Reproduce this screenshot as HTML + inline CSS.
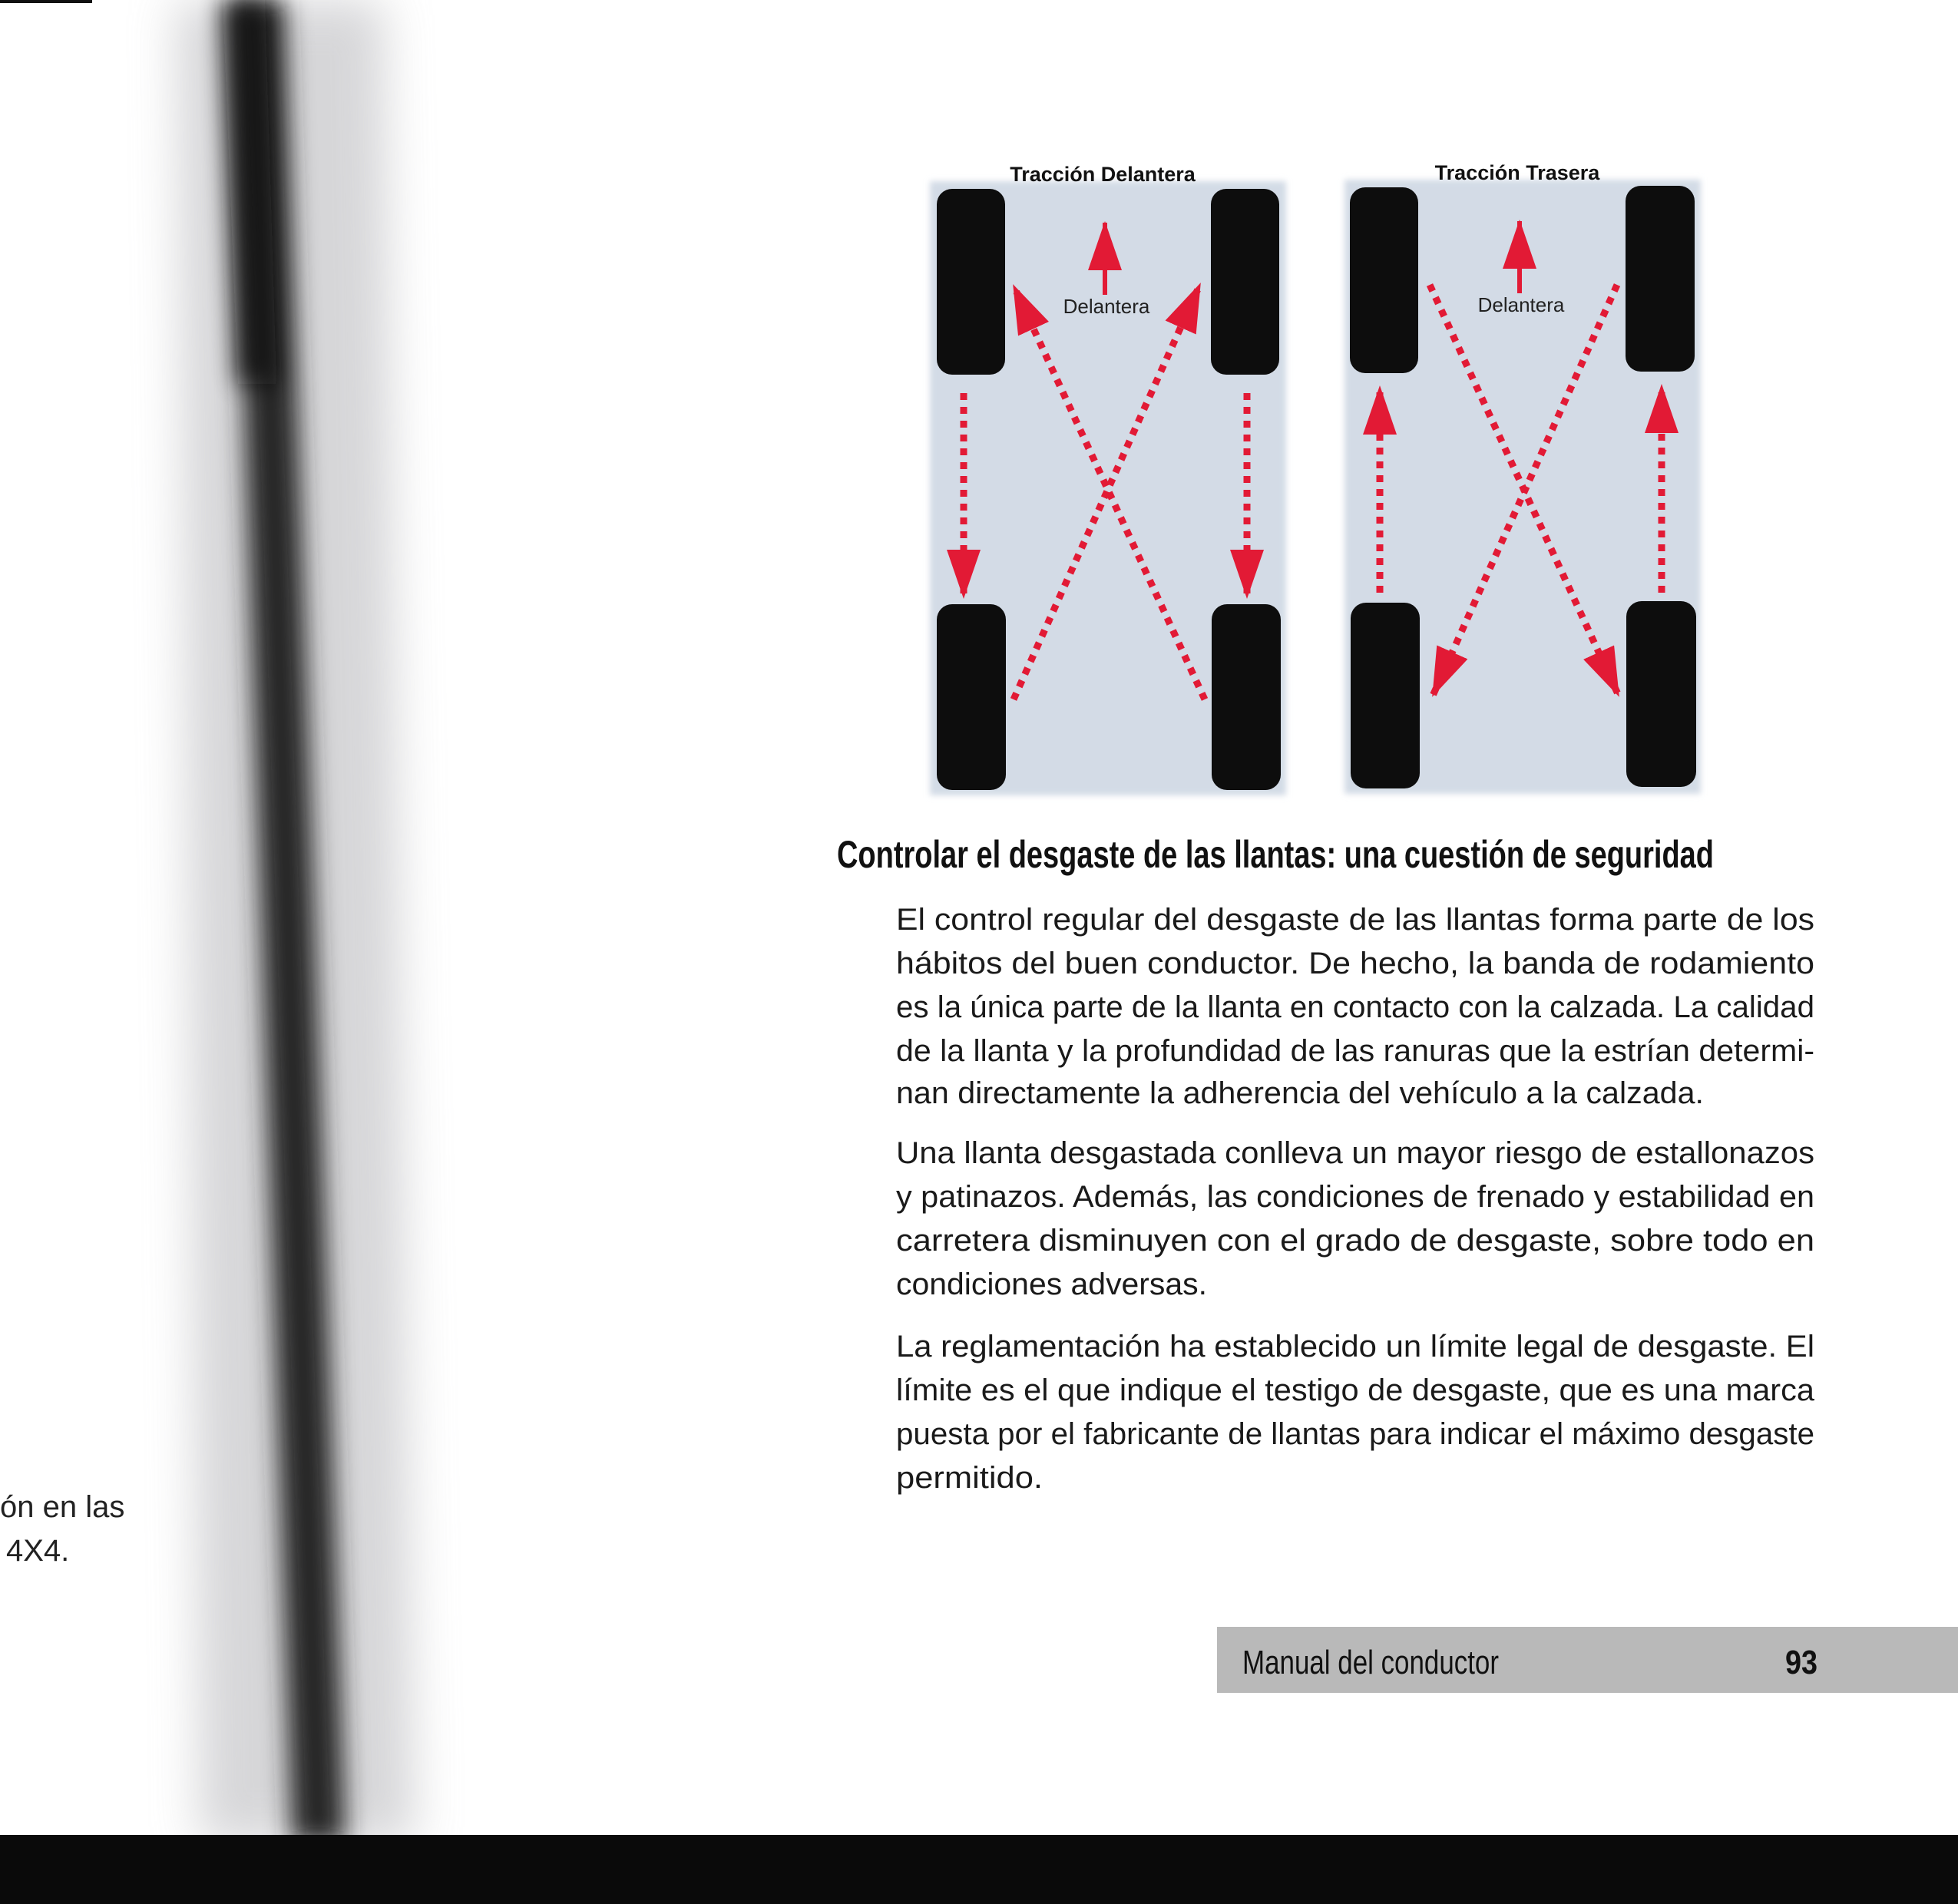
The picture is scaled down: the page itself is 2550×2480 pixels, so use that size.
<!DOCTYPE html>
<html><head><meta charset="utf-8"><style>
html,body{margin:0;padding:0;background:#fff;}
svg{display:block;}
</style></head><body>
<svg width="2550" height="2480" viewBox="0 0 2550 2480" xmlns="http://www.w3.org/2000/svg">
<defs>
<filter id="blur" x="-50%" y="-10%" width="200%" height="120%"><feGaussianBlur stdDeviation="30"/></filter>
<filter id="blur2" x="-50%" y="-10%" width="200%" height="120%"><feGaussianBlur stdDeviation="16"/></filter>
<filter id="soft" x="-5%" y="-5%" width="110%" height="110%"><feGaussianBlur stdDeviation="4"/></filter>
<marker id="ah" markerUnits="userSpaceOnUse" markerWidth="64" markerHeight="44" viewBox="0 0 64 44" refX="62" refY="22" orient="auto"><path d="M0,0 L64,22 L0,44 z" fill="#e21a35"/></marker>
</defs>

<g>
<polygon points="230,0 500,0 540,2400 260,2400" fill="#c9c9cc" filter="url(#blur)" opacity="0.75"/>
<polygon points="300,0 370,0 450,2400 380,2400" fill="#262626" filter="url(#blur2)"/>
<polygon points="290,0 345,0 360,500 310,500" fill="#111" filter="url(#blur2)" opacity="0.8"/>
</g>
<rect x="0" y="0" width="120" height="4" fill="#111"/>
<rect x="0" y="2390" width="2550" height="90" fill="#0a0a0a"/>

<g font-family="Liberation Sans, sans-serif" font-size="40" fill="#222">
<text x="0" y="1976">ón en las</text>
<text x="8" y="2033">4X4.</text>
</g>

<g>
<rect x="1211" y="236" width="464" height="800" fill="#d3dbe6" filter="url(#soft)"/>
<text x="1436" y="236" text-anchor="middle" font-family="Liberation Sans, sans-serif" font-weight="bold" font-size="27" fill="#111">Tracción Delantera</text>
<rect x="1220" y="246" width="89" height="242" rx="20" fill="#0d0d0d"/>
<rect x="1577" y="246" width="89" height="242" rx="20" fill="#0d0d0d"/>
<rect x="1220" y="787" width="90" height="242" rx="20" fill="#0d0d0d"/>
<rect x="1578" y="787" width="90" height="242" rx="20" fill="#0d0d0d"/>
<line x1="1439" y1="384" x2="1439" y2="290" stroke="#e21a35" stroke-width="6" marker-end="url(#ah)"/>
<text x="1441" y="408" text-anchor="middle" font-family="Liberation Sans, sans-serif" font-size="26" fill="#222">Delantera</text>
<g stroke="#e21a35" stroke-width="9" stroke-dasharray="9 9" fill="none">
<line x1="1255" y1="512" x2="1255" y2="778" marker-end="url(#ah)"/>
<line x1="1624" y1="512" x2="1624" y2="778" marker-end="url(#ah)"/>
<line x1="1320" y1="911" x2="1563" y2="370" marker-end="url(#ah)"/>
<line x1="1569" y1="911" x2="1320" y2="372" marker-end="url(#ah)"/>
</g>
</g>

<g>
<rect x="1751" y="234" width="464" height="800" fill="#d3dbe6" filter="url(#soft)"/>
<text x="1976" y="234" text-anchor="middle" font-family="Liberation Sans, sans-serif" font-weight="bold" font-size="27" fill="#111">Tracción Trasera</text>
<rect x="1758" y="244" width="89" height="242" rx="20" fill="#0d0d0d"/>
<rect x="2117" y="242" width="90" height="242" rx="20" fill="#0d0d0d"/>
<rect x="1759" y="785" width="90" height="242" rx="20" fill="#0d0d0d"/>
<rect x="2118" y="783" width="91" height="242" rx="20" fill="#0d0d0d"/>
<line x1="1979" y1="382" x2="1979" y2="288" stroke="#e21a35" stroke-width="6" marker-end="url(#ah)"/>
<text x="1981" y="406" text-anchor="middle" font-family="Liberation Sans, sans-serif" font-size="26" fill="#222">Delantera</text>
<g stroke="#e21a35" stroke-width="9" stroke-dasharray="9 9" fill="none">
<line x1="1797" y1="772" x2="1797" y2="504" marker-end="url(#ah)"/>
<line x1="2164" y1="772" x2="2164" y2="502" marker-end="url(#ah)"/>
<line x1="1862" y1="371" x2="2108" y2="906" marker-end="url(#ah)"/>
<line x1="2106" y1="371" x2="1866" y2="906" marker-end="url(#ah)"/>
</g>
</g>

<text x="1090" y="1130" font-family="Liberation Sans, sans-serif" font-weight="bold" font-size="50" fill="#111" textLength="1142" lengthAdjust="spacingAndGlyphs">Controlar el desgaste de las llantas: una cuestión de seguridad</text>

<g font-family="Liberation Sans, sans-serif" font-size="40" fill="#1a1a1a">
<text x="1167" y="1211" textLength="1196" lengthAdjust="spacingAndGlyphs">El control regular del desgaste de las llantas forma parte de los</text>
<text x="1167" y="1268" textLength="1196" lengthAdjust="spacingAndGlyphs">hábitos del buen conductor. De hecho, la banda de rodamiento</text>
<text x="1167" y="1325" textLength="1196" lengthAdjust="spacingAndGlyphs">es la única parte de la llanta en contacto con la calzada. La calidad</text>
<text x="1167" y="1382" textLength="1196" lengthAdjust="spacingAndGlyphs">de la llanta y la profundidad de las ranuras que la estrían determi-</text>
<text x="1167" y="1437" textLength="1052" lengthAdjust="spacingAndGlyphs">nan directamente la adherencia del vehículo a la calzada.</text>
<text x="1167" y="1515" textLength="1196" lengthAdjust="spacingAndGlyphs">Una llanta desgastada conlleva un mayor riesgo de estallonazos</text>
<text x="1167" y="1572" textLength="1196" lengthAdjust="spacingAndGlyphs">y patinazos. Además, las condiciones de frenado y estabilidad en</text>
<text x="1167" y="1629" textLength="1196" lengthAdjust="spacingAndGlyphs">carretera disminuyen con el grado de desgaste, sobre todo en</text>
<text x="1167" y="1686" textLength="405" lengthAdjust="spacingAndGlyphs">condiciones adversas.</text>
<text x="1167" y="1767" textLength="1196" lengthAdjust="spacingAndGlyphs">La reglamentación ha establecido un  límite legal de desgaste. El</text>
<text x="1167" y="1824" textLength="1196" lengthAdjust="spacingAndGlyphs">límite es el que indique el testigo de desgaste, que es una marca</text>
<text x="1167" y="1881" textLength="1196" lengthAdjust="spacingAndGlyphs">puesta por el fabricante de llantas para indicar el máximo desgaste</text>
<text x="1167" y="1938" textLength="191" lengthAdjust="spacingAndGlyphs">permitido.</text>
</g>

<g>
<rect x="1585" y="2119" width="965" height="86" fill="#b9b9b9"/>
<text x="1618" y="2180" font-family="Liberation Sans, sans-serif" font-size="44" fill="#111" textLength="334" lengthAdjust="spacingAndGlyphs">Manual del conductor</text>
<text x="2325" y="2180" font-family="Liberation Sans, sans-serif" font-weight="bold" font-size="44" fill="#111" textLength="42" lengthAdjust="spacingAndGlyphs">93</text>
</g>
</svg>
</body></html>
